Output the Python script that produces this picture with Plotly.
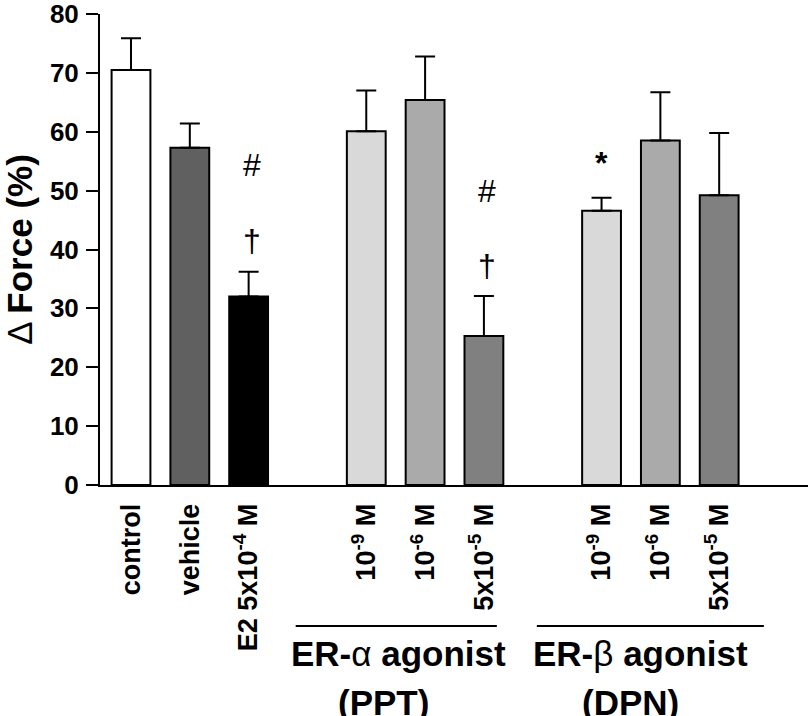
import plotly.graph_objects as go

# ---- data ----
positions = [0, 1, 2, 4, 5, 6, 8, 9, 10]
tick_labels = ["control", "vehicle", "E2 5x10<sup>-4</sup> M",
               "10<sup>-9</sup> M", "10<sup>-6</sup> M", "5x10<sup>-5</sup> M",
               "10<sup>-9</sup> M", "10<sup>-6</sup> M", "5x10<sup>-5</sup> M"]
y_ticks = [0, 10, 20, 30, 40, 50, 60, 70, 80]
force_mean = [70.5, 57.3, 32.0, 60.1, 65.4, 25.3, 46.6, 58.5, 49.2]
force_sem = [5.4, 4.1, 4.2, 6.9, 7.4, 6.8, 2.2, 8.2, 10.6]
bar_colors = ["#ffffff", "#606060", "#000000",
              "#d9d9d9", "#aaaaaa", "#808080",
              "#d9d9d9", "#aaaaaa", "#808080"]

# significance marks: (x position, y value, symbol)
sig_x = [2.05, 2.05, 6.06, 6.06, 8.0]
sig_y = [54.3, 41.5, 50.0, 37.2, 54.7]
sig_text = ["#", "†", "#", "†", "*"]

# group brackets
group_line_start = [2.8, 6.9]
group_line_end = [6.22, 10.76]
group_title = ["<b>ER-</b>α<b> agonist</b>", "<b>ER-</b>β<b> agonist</b>"]
group_title_x = [4.54, 8.67]
group_sub = ["<b>(PPT)</b>", "<b>(DPN)</b>"]
group_sub_x = [4.30, 8.50]

FONT = "Liberation Sans, Arial, Helvetica, sans-serif"

fig = go.Figure()
fig.add_trace(go.Bar(
    x=positions, y=force_mean, width=0.66,
    marker=dict(color=bar_colors, line=dict(color="#000000", width=2)),
    error_y=dict(type="data", symmetric=False, array=force_sem,
                 arrayminus=[0] * len(force_sem),
                 color="#000000", thickness=2, width=10),
    showlegend=False, hoverinfo="skip",
))

# significance symbols
for x, y, t in zip(sig_x, sig_y, sig_text):
    fig.add_annotation(x=x, y=y, xref="x", yref="y", text=t, showarrow=False,
                       font=dict(family=FONT, size=32, color="#000000",
                                 weight="bold" if t == "*" else "normal"),
                       xanchor="center", yanchor="middle")

# group brackets and labels
for s, e, t, tx, sub, sx in zip(group_line_start, group_line_end, group_title,
                                group_title_x, group_sub, group_sub_x):
    fig.add_shape(type="line", xref="x", yref="paper", x0=s, x1=e,
                  y0=-0.2994, y1=-0.2994, line=dict(color="#000000", width=2))
    fig.add_annotation(x=tx, y=-0.358, xref="x", yref="paper", text=t,
                       showarrow=False, xanchor="center", yanchor="middle",
                       font=dict(family=FONT, size=35, color="#000000"))
    fig.add_annotation(x=sx, y=-0.461, xref="x", yref="paper", text=sub,
                       showarrow=False, xanchor="center", yanchor="middle",
                       font=dict(family=FONT, size=35, color="#000000"))

fig.update_layout(
    width=808, height=716,
    margin=dict(l=100, r=0, t=14, b=231, autoexpand=False),
    paper_bgcolor="#ffffff", plot_bgcolor="#ffffff",
    font=dict(family=FONT, color="#000000"),
    xaxis=dict(range=[-0.527, 11.51], tickvals=positions, ticktext=tick_labels,
               tickangle=-90, ticks="", showline=True, linecolor="#000000",
               linewidth=2, showgrid=False, zeroline=False, automargin=False,
               ticklabelstandoff=6, ticklabeloverflow="allow",
               tickfont=dict(family=FONT, size=27, weight="bold", color="#000000")),
    yaxis=dict(range=[0, 80], tickvals=y_ticks,
               ticks="outside", ticklen=12, automargin=False,
               tickwidth=2, tickcolor="#000000", showline=True,
               linecolor="#000000", linewidth=2, showgrid=False, zeroline=False,
               ticklabelstandoff=2, ticklabeloverflow="allow",
               tickfont=dict(family=FONT, size=26, weight="bold", color="#000000"),
               title=dict(text="Δ <b>Force (%)</b>", standoff=15,
                          font=dict(family=FONT, size=35, color="#000000"))),
)

# remove the default 8px page margin so the figure fills the window exactly
fig.write_html("out.html", config={"displayModeBar": False},
               post_script="document.body.style.margin='0';document.body.style.overflow='hidden';")
